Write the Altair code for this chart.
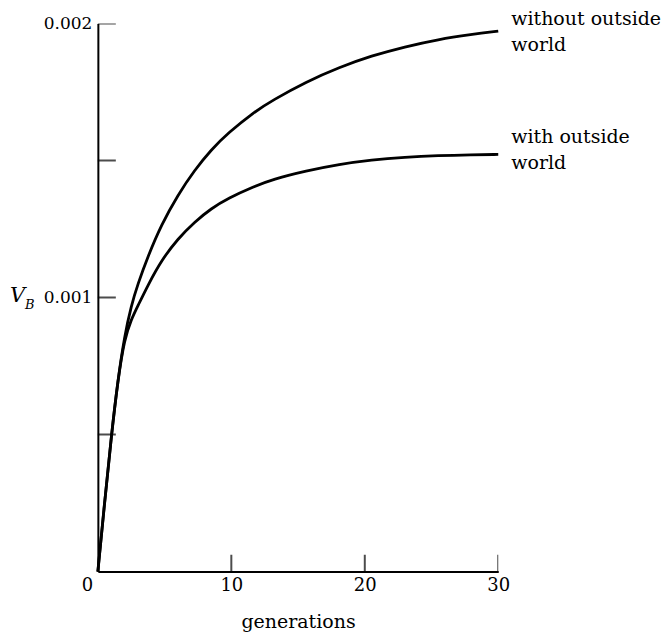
import altair as alt
import pandas as pd

# generations (x) and V_B values (in units of 0.001)
gens = [0, 0.5, 1.0, 1.5, 2.0, 2.5, 3.0, 3.75, 4.75, 6.0, 7.25, 8.5, 9.75, 11.7, 13.1, 15.6, 18.1, 20.5, 23.0, 25.5, 28.0, 30.0]
vb_without = [0, 0.25, 0.49, 0.70, 0.86, 0.97, 1.05, 1.15, 1.265, 1.375, 1.465, 1.54, 1.60, 1.677, 1.72, 1.787, 1.84, 1.882, 1.915, 1.942, 1.960, 1.972]
vb_with = [0, 0.25, 0.49, 0.70, 0.85, 0.92, 0.97, 1.045, 1.135, 1.215, 1.276, 1.325, 1.362, 1.405, 1.431, 1.462, 1.486, 1.502, 1.512, 1.518, 1.521, 1.522]

series_names = ["without outside world", "with outside world"]
series_labels = ["without outside\nworld", "with outside\nworld"]

x_ticks = [0, 10, 20, 30]
y_label_ticks = [0.001, 0.002]
y_ticks = [0.0005, 0.001, 0.0015, 0.002]
x_inner_ticks = [10, 20, 30]

rows = []
for g, v in zip(gens, vb_without):
    rows.append({"gen": g, "vb": v / 1000, "series": series_names[0]})
for g, v in zip(gens, vb_with):
    rows.append({"gen": g, "vb": v / 1000, "series": series_names[1]})
df = pd.DataFrame(rows)

lab_df = pd.DataFrame({
    "gen": [gens[-1], gens[-1]],
    "vb": [vb_without[-1] / 1000, vb_with[-1] / 1000],
    "label": series_labels,
})

FONT = "DejaVu Serif"

xscale = alt.Scale(domain=[0, 30], nice=False, zero=False)
yscale = alt.Scale(domain=[0, 0.002], nice=False)

x_axis = alt.Axis(
    values=x_ticks, format="d", ticks=False, tickSize=0, grid=False,
    domainColor="black", domainWidth=2, labelFont=FONT, labelFontSize=18,
    labelColor="black", labelPadding=5, labelFlush=False,
    labelOffset={"condition": {"test": "datum.value == 0", "value": -11}, "value": 0},
    title="generations", titleFont=FONT, titleFontSize=19, titleFontWeight="normal",
    titleColor="black", titlePadding=18,
)
y_axis = alt.Axis(
    values=y_label_ticks, format=".3f", ticks=False, tickSize=0, grid=False,
    domainColor="black", domainWidth=2, labelFont=FONT, labelFontSize=17,
    labelColor="black", labelPadding=6, labelFlush=False, title=None,
)

lines = alt.Chart(df).mark_line(color="black", strokeWidth=2.8, interpolate="basis").encode(
    x=alt.X("gen:Q", scale=xscale, axis=x_axis),
    y=alt.Y("vb:Q", scale=yscale, axis=y_axis),
    detail="series:N",
)

xt = alt.Chart(pd.DataFrame({"gen": x_inner_ticks, "vb": [0] * len(x_inner_ticks)})).mark_tick(
    orient="vertical", size=34, thickness=2, color="black", clip=True
).encode(x=alt.X("gen:Q", scale=xscale), y=alt.Y("vb:Q", scale=yscale))

yt = alt.Chart(pd.DataFrame({"gen": [0] * len(y_ticks), "vb": y_ticks})).mark_tick(
    orient="horizontal", size=36, thickness=2, color="black", clip=True
).encode(x=alt.X("gen:Q", scale=xscale), y=alt.Y("vb:Q", scale=yscale))

lab_top = alt.Chart(lab_df.iloc[[0]]).mark_text(
    align="left", baseline="alphabetic", dx=13, dy=-6, font=FONT, fontSize=19,
    lineBreak="\n", lineHeight=26, color="black"
).encode(x=alt.X("gen:Q", scale=xscale), y=alt.Y("vb:Q", scale=yscale), text="label:N")

lab_bot = alt.Chart(lab_df.iloc[[1]]).mark_text(
    align="left", baseline="alphabetic", dx=13, dy=-11, font=FONT, fontSize=19,
    lineBreak="\n", lineHeight=26, color="black"
).encode(x=alt.X("gen:Q", scale=xscale), y=alt.Y("vb:Q", scale=yscale), text="label:N")

title_df = pd.DataFrame({"gen": [0], "vb": [0.001], "v": ["V"], "b": ["B"]})
v_mark = alt.Chart(title_df).mark_text(
    align="left", baseline="alphabetic", dx=-88, dy=4, font=FONT, fontSize=21,
    fontStyle="italic", color="black"
).encode(x=alt.X("gen:Q", scale=xscale), y=alt.Y("vb:Q", scale=yscale), text="v:N")
b_mark = alt.Chart(title_df).mark_text(
    align="left", baseline="alphabetic", dx=-73, dy=11, font=FONT, fontSize=13,
    fontStyle="italic", color="black"
).encode(x=alt.X("gen:Q", scale=xscale), y=alt.Y("vb:Q", scale=yscale), text="b:N")

chart = alt.layer(lines, xt, yt, lab_top, lab_bot, v_mark, b_mark).properties(
    width=401, height=549,
    autosize=alt.AutoSizeParams(type="none"),
    padding={"left": 90, "top": 15, "right": 165, "bottom": 62},
    background="white",
).configure_view(stroke=None)

chart.save("out.html", embed_options={"renderer": "svg", "actions": False})
